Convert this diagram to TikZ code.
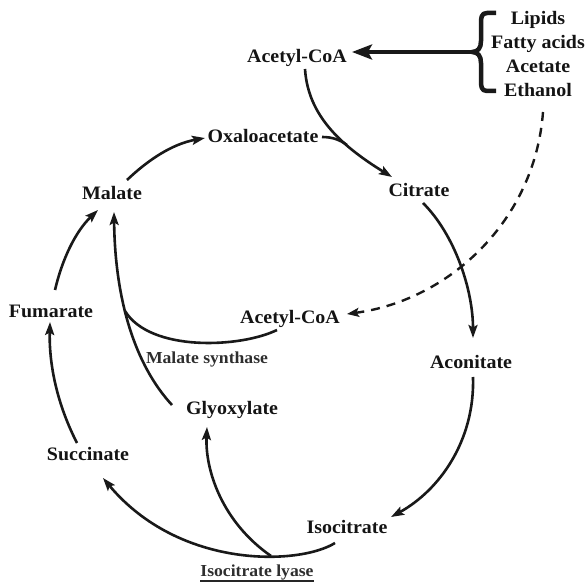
\documentclass[tikz,border=0pt]{standalone}
\usepackage{fontspec}
\setmainfont{Liberation Serif}[FakeStretch=1.05]
\usetikzlibrary{arrows.meta,calc}
\begin{document}
\begin{tikzpicture}[x=1pt,y=-1pt,
  lab/.style={font=\fontsize{19}{22}\selectfont\bfseries, text=black!92, inner sep=0pt, text height=12.6pt, text depth=0pt},
  small/.style={font=\fontsize{16.8}{20}\selectfont\bfseries, text=black!82, inner sep=0pt, text height=11.1pt, text depth=0pt},
  conn/.style={line width=2.6pt, black!90},
  arr/.style={conn, -{Stealth[length=13pt,width=9pt,inset=2.5pt]}}]
\useasboundingbox (0,0) rectangle (587,585);
% nodes
\node[lab] (AcTop) at (297,56) {Acetyl-CoA};
\node[font=\fontsize{19}{24}\selectfont\bfseries, text=black!92, inner sep=0pt, align=center] (src) at (538,54) {Lipids\\Fatty acids\\Acetate\\Ethanol};
\node[lab] (Oxa) at (263,136) {Oxaloacetate};
\node[lab] (Mal) at (112,193) {Malate};
\node[lab] (Cit) at (419,190) {Citrate};
\node[lab] (Fum) at (51,311) {Fumarate};
\node[lab] (AcMid) at (290,317) {Acetyl-CoA};
\node[small] (MS) at (207,358) {Malate synthase};
\node[lab] (Aco) at (471,362) {Aconitate};
\node[lab] (Gly) at (232,408) {Glyoxylate};
\node[lab] (Suc) at (88,454) {Succinate};
\node[lab] (Iso) at (347,527) {Isocitrate};
\node[small] (IL) at (257,571) {Isocitrate lyase};
\draw[line width=1.6pt, black!85] ($(IL.south west)+(0,4)$) -- ($(IL.south east)+(0,4)$);
% brace
\coordinate (cusp) at (472,52);
\draw[line width=4.5pt, black!90, line join=round]
  (496,13) -- (487,13) .. controls (481,13) and (481,18) .. (481,24) -- (481,41)
  .. controls (481,48) and (478,52) .. (cusp)
  .. controls (478,52) and (481,56) .. (481,63) -- (481,80)
  .. controls (481,86) and (481,91) .. (487,91) -- (496,91);
% top arrow
\draw[line width=3.6pt, black!90, -{Stealth[length=20pt,width=15pt,inset=4pt]}] (cusp) -- ($(AcTop)+(55,-4)$);
% Acetyl-CoA -> Citrate
\draw[arr] ($(AcTop)+(8,13)$) .. controls (308,115) and (340,145) .. ($(Cit)+(-27,-13)$);
\coordinate (j0) at (347,145);
\draw[conn] ($(Oxa)+(59,1)$) .. controls (333,137) and (340,140) .. (j0);
% Citrate -> Aconitate
\draw[arr] ($(Cit)+(4,13)$) .. controls (455,235) and (473,290) .. ($(Aco)+(2,-24)$);
% Aconitate -> Isocitrate
\draw[arr] ($(Aco)+(2,15)$) .. controls (475,440) and (440,490) .. ($(Iso)+(44,-10)$);
% Isocitrate -> Succinate (via isocitrate lyase)
\draw[arr] ($(Iso)+(-12,16)$) .. controls (300,565) and (180,570) .. ($(Suc)+(15,24)$);
\coordinate (j1) at (271,556);
\draw[arr] (j1) .. controls (222,522) and (205,470) .. ($(Gly)+(-25,19)$);
% Glyoxylate -> Malate
\draw[arr] ($(Gly)+(-60,-3)$) .. controls (135,365) and (115,300) .. ($(Mal)+(2,19)$);
\coordinate (j2) at (125,311);
\draw[conn] ($(AcMid)+(-13,13)$) .. controls (240,348) and (150,352) .. (j2);
% Succinate -> Fumarate
\draw[arr] ($(Suc)+(-11,-11)$) .. controls (55,400) and (49,360) .. ($(Fum)+(-1,11)$);
% Fumarate -> Malate
\draw[arr] ($(Fum)+(4,-21)$) .. controls (62,260) and (75,232) .. ($(Mal)+(-14,17)$);
% Malate -> Oxaloacetate
\draw[arr] ($(Mal)+(15,-13)$) .. controls (148,160) and (172,144) .. ($(Oxa)+(-58,2)$);
% dashed
\draw[line width=2.4pt, black!90, dash pattern=on 9pt off 7pt, -{Stealth[length=12pt,width=9pt,inset=2.5pt]}]
  ($(src)+(5,58)$) .. controls (535,220) and (450,300) .. ($(AcMid)+(57,-3)$);
\end{tikzpicture}
\end{document}
